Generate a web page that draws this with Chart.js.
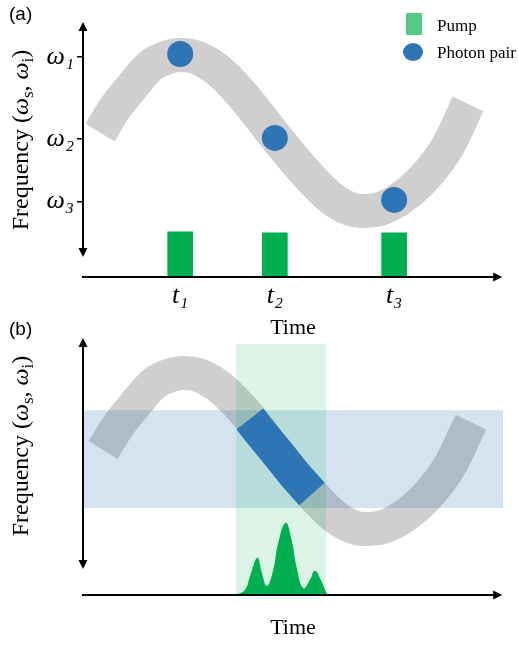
<!DOCTYPE html>
<html>
<head>
<meta charset="utf-8">
<script src="https://cdn.jsdelivr.net/npm/chart.js@4.4.0/dist/chart.umd.min.js"></script>
<style>
  body { margin: 0; background: #fff; width: 518px; height: 645px; position: relative; overflow: hidden; font-family: "Liberation Serif", "DejaVu Serif", serif; color: #000; }
  canvas { position: absolute; left: 0; }
  #chartA { top: 0; }
  #chartB { top: 322px; }
  .tag { position: absolute; left: 9px; font-family: "Liberation Sans", Arial, sans-serif; font-size: 19px; line-height: 1; }
  .ytitle { position: absolute; left: 22px; transform: translate(-50%, -50%) rotate(-90deg); white-space: nowrap; font-size: 24px; line-height: 1; }
  .ytitle sub { font-size: 17px; }
  .legend { position: absolute; left: 437px; font-size: 17px; line-height: 1; transform: translateY(-50%); white-space: nowrap; }
  .swatch { position: absolute; }
</style>
</head>
<body>
<canvas id="chartA" width="518" height="345"></canvas>
<canvas id="chartB" width="518" height="323"></canvas>

<div class="tag" style="top:4px">(a)</div>
<div class="tag" style="top:319px">(b)</div>
<div class="ytitle" style="top:140px">Frequency (<i>ω</i><sub>s</sub>, <i>ω</i><sub>i</sub>)</div>
<div class="ytitle" style="top:446px">Frequency (<i>ω</i><sub>s</sub>, <i>ω</i><sub>i</sub>)</div>

<!-- legend -->
<div class="swatch" style="left:406px;top:13px;width:16px;height:22px;background:#55C98A"></div>
<div class="legend" style="top:25px">Pump</div>
<div class="swatch" style="left:403px;top:43px;width:20px;height:18px;border-radius:50%;background:#2E75B6"></div>
<div class="legend" style="top:52px">Photon pair</div>

<script>
// --- DATA PANEL (a) --- //
const ridgeTimeA = [4.1, 7.7, 11.3, 16.1, 19.7, 23.3, 26.9, 31.7, 37.6, 46.0, 53.2, 59.2, 64.0, 66.9, 71.2, 76.0, 82.0, 87.5, 92.3];
const ridgeFreqA = [57.3, 67.1, 74.6, 83.7, 86.9, 88.1, 87.3, 82.9, 73.4, 56.0, 41.7, 31.7, 27.0, 26.2, 27.0, 31.0, 39.7, 52.0, 68.7];
const pairTime = [23.3, 46.0, 74.6];
const pairFreq = [88.5, 55.2, 30.6];
const pumpHeight = [17.9, 17.5, 17.5];
const omegaTicks = [87.3, 54.8, 29.9];
const omegaLabels = ["ω₁", "ω₂", "ω₃"];
const timeLabels = ["t₁", "t₂", "t₃"];

// --- DATA PANEL (b) --- //
const ridgeTimeB = [4.8, 8.4, 12.0, 16.8, 20.4, 24.0, 27.6, 32.4, 38.4, 46.8, 54.0, 59.9, 64.7, 67.6, 71.9, 76.7, 82.7, 88.2, 93.0];
const ridgeFreqB = [56.9, 66.3, 73.7, 82.7, 85.9, 87.1, 86.3, 82.0, 72.5, 55.3, 41.2, 31.4, 26.7, 25.9, 26.7, 30.6, 39.2, 51.4, 67.8];
const segTime = [40.0, 43.4, 46.8, 50.8, 54.9];
const segFreq = [69.0, 62.0, 55.3, 47.1, 39.6];
const bandFreq = [34.1, 72.5];       // filter band (low, high)
const bandTime = [0, 100.7];
const windowTime = [36.7, 58.3];     // gate window
const windowTop = 98.4;
const pulseTime = [36.5, 38.8, 40.0, 41.8, 42.9, 44.1, 45.6, 46.8, 48.6, 50.0, 51.2, 52.8, 54.4, 55.6, 56.8, 58.4, 58.8];
const pulseAmp  = [0, 2.0, 7.1, 14.6, 8.6, 3.5, 9.8, 20.4, 28.3, 21.6, 11.1, 2.7, 5.9, 9.5, 6.7, 0.8, 0];

const SERIF = '"Liberation Serif", "DejaVu Serif", serif';
const GREY = "#D0CECE", BLUE = "#2E75B6", GREEN = "#00B050";
Chart.defaults.color = "#000";

const zip = (xs, ys) => xs.map((x, i) => ({ x, y: ys[i] }));

// --- PANAH SUMBU --- //
const axisArrows = {
  id: "axisArrows",
  afterDraw(chart, args, o) {
    const { ctx, scales: { x, y } } = chart;
    const x0 = x.getPixelForValue(0), y0 = y.getPixelForValue(0);
    const yTop = y.getPixelForValue(o.yTop), yBot = y.getPixelForValue(o.yBottom);
    const xEnd = x.getPixelForValue(o.xEnd);
    const L = 9, W = 4.5;
    const head = (px, py, dx, dy) => {
      ctx.beginPath();
      ctx.moveTo(px, py);
      ctx.lineTo(px - dx * L - dy * W, py - dy * L - dx * W);
      ctx.lineTo(px - dx * L + dy * W, py - dy * L + dx * W);
      ctx.closePath();
      ctx.fill();
    };
    ctx.save();
    ctx.strokeStyle = ctx.fillStyle = "#000";
    ctx.lineWidth = 2;
    ctx.beginPath();
    ctx.moveTo(x0, yBot - L);
    ctx.lineTo(x0, yTop + L);
    ctx.moveTo(x0 - 1, y0);
    ctx.lineTo(xEnd - L, y0);
    ctx.stroke();
    head(x0, yTop, 0, -1);
    head(x0, yBot, 0, 1);
    head(xEnd, y0, 1, 0);
    ctx.restore();
  }
};

function baseOptions(cfg) {
  return {
    responsive: false,
    animation: false,
    events: [],
    layout: { padding: { left: 0, right: 15, top: cfg.top, bottom: 0 } },
    plugins: { legend: { display: false }, tooltip: { enabled: false }, axisArrows: cfg.arrows },
    scales: {
      x: {
        type: "linear", min: 0, max: 100.7, offset: false,
        grid: { display: false, drawTicks: false, offset: false },
        border: { display: false },
        afterFit: s => { s.height = cfg.xHeight; },
        afterBuildTicks: s => { s.ticks = cfg.xTicks.map(v => ({ value: v })); },
        ticks: {
          display: cfg.xTicks.length > 0, autoSkip: false, maxRotation: 0, padding: 4,
          font: { family: SERIF, size: 26, style: "italic" },
          callback: (v, i) => timeLabels[i]
        },
        title: { display: true, text: "Time", font: { family: SERIF, size: 22 }, padding: { top: 4, bottom: 4 } }
      },
      y: {
        type: "linear", min: 0, max: 100,
        grid: { display: cfg.yTicks.length > 0, drawOnChartArea: false, drawTicks: true, tickLength: 6, color: "#000", lineWidth: 1.5 },
        border: { display: false },
        afterFit: s => { s.width = 83; },
        afterBuildTicks: s => { s.ticks = cfg.yTicks.map(v => ({ value: v })); },
        ticks: {
          display: cfg.yTicks.length > 0, autoSkip: false, padding: 3,
          font: { family: SERIF, size: 26, style: "italic" },
          callback: (v, i) => omegaLabels[i]
        }
      }
    }
  };
}

const ridgeStyle = {
  type: "line", borderWidth: 34, pointRadius: 0, borderCapStyle: "butt", borderJoinStyle: "round",
  cubicInterpolationMode: "monotone", fill: false, clip: false
};

// --- CHART (a) --- //
new Chart(document.getElementById("chartA"), {
  type: "line",
  data: {
    datasets: [
      { ...ridgeStyle, label: "Ridge", data: zip(ridgeTimeA, ridgeFreqA), borderColor: GREY, order: 3 },
      { type: "bar", label: "Pump", data: zip(pairTime, pumpHeight), backgroundColor: GREEN, barThickness: 25, order: 2 },
      { type: "line", label: "Photon pair", data: zip(pairTime, pairFreq), showLine: false,
        pointRadius: 13, pointBackgroundColor: BLUE, pointBorderWidth: 0, order: 1 }
    ]
  },
  options: baseOptions({ top: 25, xHeight: 68, xTicks: pairTime, yTicks: omegaTicks,
    arrows: { yTop: 101.2, yBottom: 7.9, xEnd: 100.5 } }),
  plugins: [axisArrows]
});

// --- CHART (b) --- //
new Chart(document.getElementById("chartB"), {
  type: "line",
  data: {
    datasets: [
      { ...ridgeStyle, label: "Ridge", data: zip(ridgeTimeB, ridgeFreqB), borderColor: GREY, order: 5 },
      { type: "line", label: "Band", data: zip(bandTime, [bandFreq[1], bandFreq[1]]), borderWidth: 0, pointRadius: 0,
        fill: { value: bandFreq[0] }, backgroundColor: "rgba(46,117,182,0.2)", order: 4 },
      { type: "line", label: "Window", data: zip(windowTime, [windowTop, windowTop]), borderWidth: 0, pointRadius: 0,
        fill: "origin", backgroundColor: "rgba(0,176,80,0.14)", order: 3 },
      { ...ridgeStyle, label: "Selected", data: zip(segTime, segFreq), borderColor: BLUE, order: 2 },
      { type: "line", label: "Pump", data: zip(pulseTime, pulseAmp), borderWidth: 0, pointRadius: 0,
        tension: 0.45, fill: "origin", backgroundColor: GREEN, order: 1 }
    ]
  },
  options: baseOptions({ top: 18, xHeight: 50, xTicks: [], yTicks: [],
    arrows: { yTop: 100.8, yBottom: 10.2, xEnd: 100.5 } }),
  plugins: [axisArrows]
});
</script>
</body>
</html>
